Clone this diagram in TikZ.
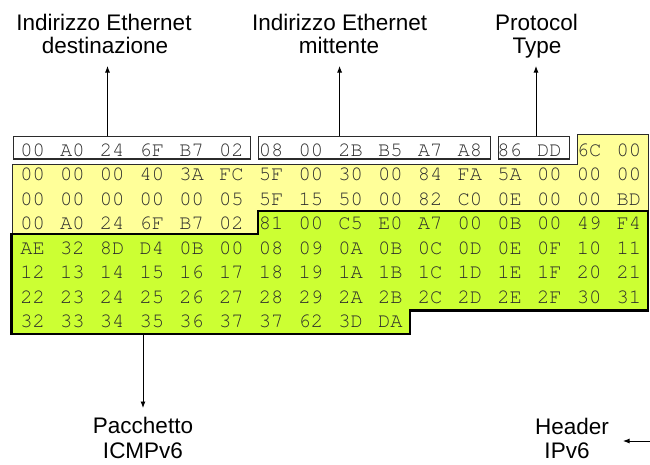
\documentclass[tikz,border=0pt]{standalone}
\usepackage{fontspec}
\setmainfont{Liberation Sans}
\newfontfamily\hexfont{texgyrecursor-regular.otf}
\usetikzlibrary{arrows.meta}
\definecolor{hexyellow}{HTML}{FFFF99}
\definecolor{hexgreen}{HTML}{CCFF33}
\definecolor{hexink}{HTML}{2B2B2B}
\begin{document}
\begin{tikzpicture}[x=1pt,y=-1pt,
  hexbyte/.style={font=\hexfont\fontsize{20.5}{20.5}\selectfont, text=hexink, inner sep=0pt, anchor=base},
  lbl/.style={font=\fontsize{22.5}{24}\selectfont, inner sep=0pt, anchor=base},
  fieldbox/.style={draw=hexink, line width=1.2pt, fill=white, inner sep=0pt, anchor=north west},
  arr/.style={-{Latex[length=6.5pt,width=5pt]}, line width=0.9pt}]
\useasboundingbox (0,0) rectangle (650,464);
% regions
\draw[fill=hexyellow, draw=hexink, line width=1pt]
  (577,134) -- (648,134) -- (648,240) -- (12,240) -- (12,164) -- (577,164) -- cycle;
\draw[fill=hexgreen, draw=black, line width=2.6pt, line join=miter]
  (258,211) -- (648,211) -- (648,310.5) -- (410,310.5) -- (410,334) -- (11.5,334) -- (11.5,234) -- (258,234) -- cycle;
% field boxes
\node[fieldbox, minimum width=237pt, minimum height=22.3pt] (box1) at (13,136) {};
\node[fieldbox, minimum width=231.5pt, minimum height=22.3pt] (box2) at (258,136) {};
\node[fieldbox, minimum width=71pt, minimum height=22.3pt] (box3) at (497.7,136) {};
% bytes
\foreach \row [count=\r from 0] in {
  {00,A0,24,6F,B7,02,08,00,2B,B5,A7,A8,86,DD,6C,00},
  {00,00,00,40,3A,FC,5F,00,30,00,84,FA,5A,00,00,00},
  {00,00,00,00,00,05,5F,15,50,00,82,C0,0E,00,00,BD},
  {00,A0,24,6F,B7,02,81,00,C5,E0,A7,00,0B,00,49,F4},
  {AE,32,8D,D4,0B,00,08,09,0A,0B,0C,0D,0E,0F,10,11},
  {12,13,14,15,16,17,18,19,1A,1B,1C,1D,1E,1F,20,21},
  {22,23,24,25,26,27,28,29,2A,2B,2C,2D,2E,2F,30,31},
  {32,33,34,35,36,37,37,62,3D,DA}}{
  \foreach \b [count=\c from 0] in \row {
    \node[hexbyte] (h-\r-\c) at ({32.6+39.75*\c},{156+24.5*\r}) {\b};
  }
}
% labels
\node[lbl] (l1a) at (104,30) {Indirizzo Ethernet};
\node[lbl] (l1b) at (105,53) {destinazione};
\node[lbl] (l2a) at (339.6,30) {Indirizzo Ethernet};
\node[lbl] (l2b) at (339,53) {mittente};
\node[lbl] (l3a) at (536.5,30) {Protocol};
\node[lbl] (l3b) at (537,53) {Type};
\node[lbl] (l4a) at (143,433) {Pacchetto};
\node[lbl] (l4b) at (143,458) {ICMPv6};
\node[lbl] (l5a) at (572,434) {Header};
\node[lbl] (l5b) at (567,458) {IPv6};
% arrows
\coordinate (t1) at (107.5,66);
\coordinate (t2) at (339.6,66);
\coordinate (t3) at (536,66);
\coordinate (gb) at (143,334);
\coordinate (t4) at (143,408);
\coordinate (hs) at (651,441);
\coordinate (ht) at (623,441);
\draw[arr] (box1.north -| t1) -- (t1);
\draw[arr] (box2.north -| t2) -- (t2);
\draw[arr] (box3.north -| t3) -- (t3);
\draw[arr] (gb) -- (t4);
\draw[arr] (hs) -- (ht);
\end{tikzpicture}
\end{document}
